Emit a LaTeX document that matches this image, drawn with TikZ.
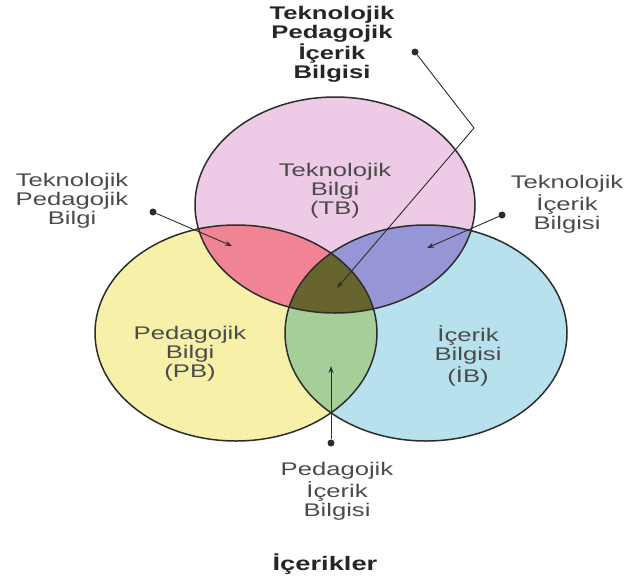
\documentclass[tikz,border=0pt]{standalone}
\usepackage{fontspec}
\setmainfont{Liberation Sans}
\usepackage{graphicx}
\usetikzlibrary{arrows.meta}
\definecolor{cpink}{RGB}{237,202,230}
\definecolor{cyellow}{RGB}{246,240,168}
\definecolor{cblue}{RGB}{182,225,237}
\definecolor{cred}{RGB}{240,132,148}
\definecolor{cpurple}{RGB}{150,150,214}
\definecolor{cgreen}{RGB}{166,206,152}
\definecolor{cdark}{RGB}{104,100,46}
\definecolor{cline}{RGB}{45,45,45}
\definecolor{ctxt}{RGB}{75,75,75}
\newcommand{\wtxt}[1]{\scalebox{1.4}[1]{\fontsize{18.3}{19}\selectfont\begin{tabular}{@{}c@{}}#1\end{tabular}}}
\newcommand{\btxt}[1]{\scalebox{1.4}[1]{\fontsize{19.5}{19}\selectfont\bfseries #1}}
\newcommand{\pinkpath}{(335,205) ellipse [x radius=140pt, y radius=108pt]}
\newcommand{\yellowpath}{(236,333) ellipse [x radius=141pt, y radius=108pt]}
\newcommand{\bluepath}{(426,333) ellipse [x radius=141pt, y radius=108pt]}
\tikzset{
  lbl/.style={inner sep=0pt, text=ctxt},
  boldlbl/.style={inner sep=0pt, text=black!85, font=\bfseries},
  dotnode/.style={circle, fill=cline, inner sep=0pt, minimum size=7pt},
  conn/.style={draw=cline, line width=0.9pt, -{Stealth[length=7pt,width=5pt]}},
  outline/.style={draw=cline, line width=1.5pt}
}
\begin{document}
\begin{tikzpicture}[x=1pt,y=-1pt]
\useasboundingbox (0,0) rectangle (628,581);
\fill[white] (0,0) rectangle (628,581);
% base fills
\fill[cyellow] \yellowpath;
\fill[cblue] \bluepath;
\fill[cpink] \pinkpath;
% pairwise intersections
\begin{scope}\clip \pinkpath; \fill[cred] \yellowpath; \end{scope}
\begin{scope}\clip \pinkpath; \fill[cpurple] \bluepath; \end{scope}
\begin{scope}\clip \yellowpath; \fill[cgreen] \bluepath; \end{scope}
\begin{scope}\clip \pinkpath; \clip \yellowpath; \fill[cdark] \bluepath; \end{scope}
% outlines
\path[outline] \yellowpath;
\path[outline] \bluepath;
\path[outline] \pinkpath;

% labels
\node[boldlbl] (tpik) at (332,45) {\wtxt{\bfseries Teknolojik\\\bfseries Pedagojik\\\bfseries İçerik\\\bfseries Bilgisi}};
\node[lbl] (tpb) at (72,202) {\wtxt{Teknolojik\\Pedagojik\\Bilgi}};
\node[lbl] (tib) at (567,205) {\wtxt{Teknolojik\\İçerik\\Bilgisi}};
\node[lbl] (tb) at (335,192) {\wtxt{Teknolojik\\Bilgi\\(TB)}};
\node[lbl] (pb) at (190,355) {\wtxt{Pedagojik\\Bilgi\\(PB)}};
\node[lbl] (ib) at (468,357) {\wtxt{İçerik\\Bilgisi\\(İB)}};
\node[lbl] (pib) at (337,492) {\wtxt{Pedagojik\\İçerik\\Bilgisi}};
\node[boldlbl] (icerikler) at (325,564) {\btxt{İçerikler}};

% connectors
\node[dotnode] (d1) at (415,52) {};
\coordinate (b1) at (474,128);
\coordinate (t1) at (337,288);
\draw[conn] (d1) -- (b1) -- (t1);

\node[dotnode] (d2) at (153,212) {};
\coordinate (t2) at (232,246);
\draw[conn] (d2) -- (t2);

\node[dotnode] (d3) at (502,215) {};
\coordinate (t3) at (427,248);
\draw[conn] (d3) -- (t3);

\node[dotnode] (d4) at (331,443) {};
\coordinate (t4) at (331,366);
\draw[conn] (d4) -- (t4);
\end{tikzpicture}
\end{document}
